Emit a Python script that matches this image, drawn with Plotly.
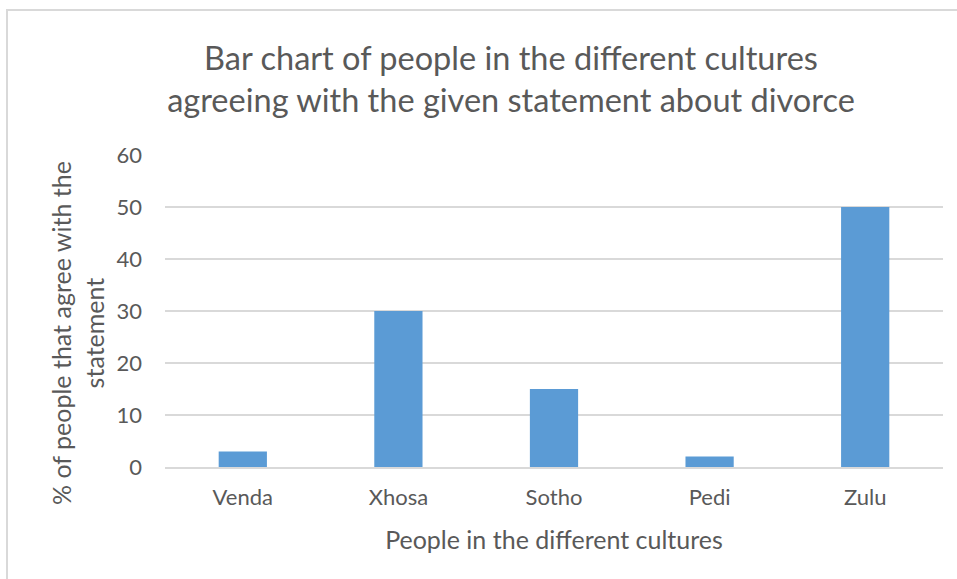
import plotly.graph_objects as go

# Survey results per culture
cultures = ["Venda", "Xhosa", "Sotho", "Pedi", "Zulu"]
agree_pct = [3, 30, 15, 2, 50]
y_ticks = [0, 10, 20, 30, 40, 50, 60]

W, H = 957, 579
ML, MR, MT, MB = 165, 14, 155, 112
PW, PH = W - ML - MR, H - MT - MB

FONT = "Lato, Open Sans, sans-serif"
GREY = "#595959"

fig = go.Figure(
    go.Bar(
        x=cultures,
        y=agree_pct,
        marker=dict(color="#5b9bd5", line=dict(color="#5b9bd5", width=0)),
    )
)

# chart-area outline, running off the right and bottom edges
fig.add_shape(
    type="rect", xref="paper", yref="paper", layer="below",
    x0=(7 - ML) / PW, x1=(W + 20 - ML) / PW,
    y0=-(MB + 40) / PH, y1=(H - 10 - MB) / PH,
    line=dict(color="#d9d9d9", width=2), fillcolor="rgba(0,0,0,0)",
)

# vertical axis title, two centred lines
fig.add_annotation(
    text="% of people that agree with the<br>statement",
    xref="paper", yref="paper",
    x=(77 - ML) / PW, y=(467 - 333) / PH,
    xanchor="center", yanchor="middle",
    textangle=-90, showarrow=False, align="center",
    font=dict(family=FONT, size=25, color=GREY),
)

fig.update_layout(
    width=W, height=H,
    margin=dict(l=ML, r=MR, t=MT, b=MB, autoexpand=False),
    paper_bgcolor="white", plot_bgcolor="white",
    bargap=0.69,
    showlegend=False,
    font=dict(family=FONT, color=GREY, size=22),
    title=dict(
        text="Bar chart of people in the different cultures<br>agreeing with the given statement about divorce",
        font=dict(family=FONT, size=32.5, color=GREY),
        x=511 / W, xanchor="center",
        y=1 - 70 / H, yanchor="middle",
    ),
    xaxis=dict(
        showgrid=False, showline=True, linecolor="#d9d9d9", linewidth=2,
        ticks="", ticklabelstandoff=10, tickfont=dict(size=22, color=GREY),
        title=dict(text="People in the different cultures", font=dict(size=25, color=GREY), standoff=22),
    ),
    yaxis=dict(
        range=[0, 60], tickvals=y_ticks, showgrid=True, gridcolor="#d9d9d9", gridwidth=1.5,
        zeroline=False, ticks="", ticklabelstandoff=22,
        tickfont=dict(size=22, color=GREY),
    ),
)

fig.write_html("out.html")
